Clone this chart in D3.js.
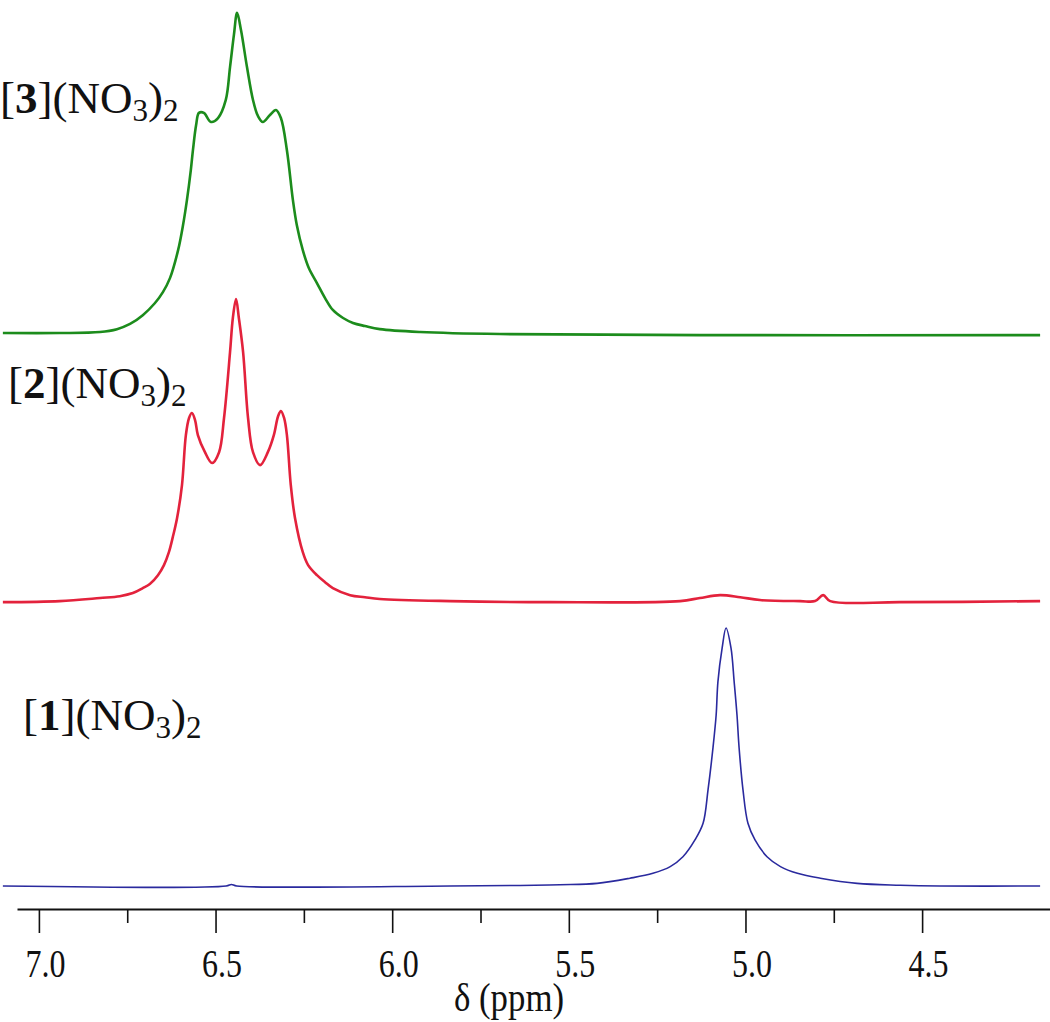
<!DOCTYPE html>
<html>
<head>
<meta charset="utf-8">
<title>1H NMR spectra</title>
<script src="https://d3js.org/d3.v7.min.js"></script>
<style>
  body { margin: 0; background: #fff; }
  svg { display: block; font-family: "Liberation Serif", "Times New Roman", serif; }
</style>
</head>
<body>
<div id="chart"></div>
<script>
// spectra: chemical shift (ppm) and intensity (blue peak = 100)
const ppm3 = [7.102, 6.941, 6.827, 6.779, 6.742, 6.706, 6.672, 6.649, 6.629, 6.606, 6.592, 6.581, 6.570, 6.564, 6.555, 6.547, 6.533, 6.513, 6.493, 6.471, 6.459, 6.448, 6.439, 6.428, 6.411, 6.394, 6.380, 6.366, 6.346, 6.329, 6.315, 6.298, 6.281, 6.270, 6.253, 6.236, 6.213, 6.190, 6.168, 6.139, 6.111, 6.077, 6.035, 5.921, 5.695, 5.129, 4.166];
const int3 = [0.5, 0.5, 0.9, 2.0, 4.0, 7.4, 12.0, 16.3, 21.7, 32.5, 42.2, 51.8, 63.4, 71.1, 80.8, 85.5, 85.5, 82.0, 83.5, 90.5, 103.2, 115.6, 124.1, 117.5, 103.2, 90.5, 84.3, 82.0, 84.7, 86.6, 83.5, 71.1, 51.8, 42.2, 32.5, 25.6, 19.8, 14.0, 9.4, 6.3, 4.4, 3.2, 2.0, 0.9, 0.1, -0.3, -0.3];

const ppm2 = [7.102, 6.941, 6.827, 6.771, 6.734, 6.706, 6.686, 6.663, 6.646, 6.632, 6.621, 6.609, 6.595, 6.584, 6.575, 6.567, 6.558, 6.550, 6.530, 6.510, 6.490, 6.476, 6.459, 6.451, 6.442, 6.434, 6.422, 6.408, 6.394, 6.374, 6.352, 6.335, 6.323, 6.315, 6.306, 6.298, 6.287, 6.275, 6.253, 6.238, 6.213, 6.190, 6.168, 6.119, 6.077, 6.035, 5.836, 5.553, 5.185, 5.129, 5.072, 5.015, 4.959, 4.845, 4.803, 4.780, 4.760, 4.562, 4.166];
const int2 = [-0.4, 0, 1.2, 1.9, 3.1, 5.0, 6.6, 10.0, 13.9, 18.9, 24.7, 32.0, 44.8, 64.1, 70.7, 72.6, 69.9, 64.1, 57.5, 53.3, 57.5, 70.7, 96.1, 109.3, 116.6, 109.3, 96.1, 70.7, 57.5, 52.5, 57.5, 64.1, 71.4, 73.4, 70.7, 64.1, 44.8, 32.0, 18.9, 13.9, 10.0, 7.3, 5.0, 2.3, 1.5, 0.8, 0, -0.4, 0, 1.2, 2.3, 1.5, 0.4, 0, 0, 2.3, 0, -0.4, 0];

const ppm1 = [7.102, 6.470, 6.455, 6.440, 5.836, 5.638, 5.525, 5.420, 5.327, 5.262, 5.213, 5.177, 5.143, 5.120, 5.106, 5.092, 5.083, 5.078, 5.066, 5.055, 5.041, 5.032, 5.024, 5.018, 5.007, 4.993, 4.973, 4.939, 4.901, 4.853, 4.788, 4.684, 4.562, 4.450, 4.166];
const int1 = [0, 0, 0.6, 0, 0, 0.2, 0.5, 1.0, 3.0, 4.9, 7.5, 11.3, 17.8, 24.2, 37.1, 53.3, 66.0, 78.8, 91.9, 99.6, 91.9, 78.8, 66.0, 53.3, 37.1, 24.2, 17.8, 11.3, 7.5, 4.9, 3.0, 1.0, 0.3, 0, 0];

const compounds = ["3", "2", "1"];
const offsets = [213, 110, 0];
const colors = ["#1c8c1c", "#e3223c", "#2a2a9e"];
const majorTicks = [7.0, 6.5, 6.0, 5.5, 5.0, 4.5];
const minorTicks = [6.75, 6.25, 5.75, 5.25, 4.75];
const axisTitle = "δ (ppm)";

const width = 1050, height = 1022;
const serif = '"Liberation Serif", "Times New Roman", serif';
const svg = d3.select("#chart").append("svg")
  .attr("width", width)
  .attr("height", height);

// NMR convention: shift decreases to the right
const x = d3.scaleLinear().domain([7.062, 4.138]).range([17, 1050]);
const y = d3.scaleLinear().domain([0, 340]).range([886, 5.4]);

const series = [
  { ppm: ppm3, val: int3 },
  { ppm: ppm2, val: int2 },
  { ppm: ppm1, val: int1 }
];

const line = d3.line()
  .x(d => x(d[0]))
  .y(d => y(d[1]))
  .curve(d3.curveCatmullRom.alpha(0.5));

series.forEach((s, i) => {
  const pts = s.ppm.map((p, j) => [p, s.val[j] + offsets[i]]);
  svg.append("path")
    .datum(pts)
    .attr("fill", "none")
    .attr("stroke", colors[i])
    .attr("stroke-width", i === 2 ? 1.6 : 2.6)
    .attr("stroke-linejoin", "round")
    .attr("d", line);
});

// compound labels
const labelPos = [
  { lx: 0, ly: 113 },
  { lx: 8, ly: 398 },
  { lx: 23, ly: 730 }
];
compounds.forEach((c, i) => {
  const t = svg.append("text")
    .attr("x", labelPos[i].lx)
    .attr("y", labelPos[i].ly)
    .attr("font-family", serif)
    .attr("font-size", 45)
    .attr("fill", "#111");
  t.append("tspan").text("[");
  t.append("tspan").attr("font-weight", "bold").text(c);
  t.append("tspan").text("](NO");
  t.append("tspan").attr("font-size", 31).attr("dy", 8).text("3");
  t.append("tspan").attr("dy", -8).text(")");
  t.append("tspan").attr("font-size", 31).attr("dy", 8).text("2");
});

// axis
const axisY = 909;
const gMinor = svg.append("g")
  .attr("transform", `translate(0,${axisY})`)
  .call(d3.axisBottom(x).tickValues(minorTicks).tickSize(14).tickSizeOuter(0).tickFormat(""));
gMinor.select(".domain").remove();
gMinor.selectAll(".tick line").attr("stroke", "#111").attr("stroke-width", 1.6);

const gMajor = svg.append("g")
  .attr("transform", `translate(0,${axisY})`)
  .call(d3.axisBottom(x).tickValues(majorTicks).tickSize(24).tickSizeOuter(0).tickFormat(d3.format(".1f")));
gMajor.attr("font-family", serif).attr("font-size", 40);
gMajor.select(".domain").attr("stroke", "#111").attr("stroke-width", 2.2);
gMajor.selectAll(".tick line").attr("stroke", "#111").attr("stroke-width", 1.6);
gMajor.selectAll(".tick text")
  .attr("y", 0)
  .attr("dy", null)
  .attr("fill", "#111")
  .attr("font-family", serif)
  .attr("transform", "translate(6,68) scale(0.8,1)");

svg.append("text")
  .attr("transform", "translate(509,1011) scale(0.87,1)")
  .attr("text-anchor", "middle")
  .attr("font-family", serif)
  .attr("font-size", 40)
  .attr("fill", "#111")
  .text(axisTitle);
</script>
</body>
</html>
